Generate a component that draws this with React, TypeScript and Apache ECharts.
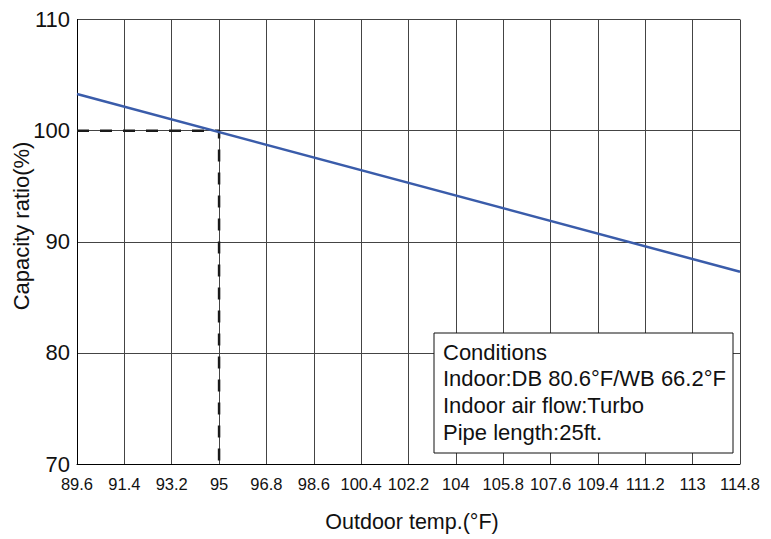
import React, { useEffect, useRef } from "react";
import * as echarts from "echarts";

const xLabels = ["89.6", "91.4", "93.2", "95", "96.8", "98.6", "100.4", "102.2", "104", "105.8", "107.6", "109.4", "111.2", "113", "114.8"];
const capacityLine: [string, number][] = [["89.6", 103.3], ["114.8", 87.3]];
const ratedGuide: [string, number][] = [["89.6", 100], ["95", 100], ["95", 70]];
const yTicks = [70, 80, 90, 100, 110];
const conditionLines = [
  "Conditions",
  "Indoor:DB 80.6°F/WB 66.2°F",
  "Indoor air flow:Turbo",
  "Pipe length:25ft.",
];
const xTitle = "Outdoor temp.(°F)";
const yTitle = "Capacity ratio(%)";

const FONT = "Liberation Sans, Arial, sans-serif";

export default function App() {
  const ref = useRef<HTMLDivElement>(null);
  useEffect(() => {
    if (!ref.current) return;
    const chart = echarts.init(ref.current, null, { renderer: "svg" });
    chart.setOption({
      animation: false,
      backgroundColor: "#ffffff",
      textStyle: { fontFamily: FONT },
      grid: { left: 77, right: 31, top: 19.5, bottom: 75, containLabel: false },
      xAxis: {
        type: "category",
        data: xLabels,
        boundaryGap: false,
        axisLine: { show: true, lineStyle: { color: "#000", width: 1 } },
        axisTick: { show: false },
        axisLabel: { fontSize: 16.5, color: "#111", margin: 11, fontFamily: FONT, interval: 0 },
        splitLine: { show: true, lineStyle: { color: "#444", width: 1 } },
      },
      yAxis: {
        type: "value",
        min: yTicks[0],
        max: yTicks[yTicks.length - 1],
        interval: 10,
        axisLine: { show: true, lineStyle: { color: "#000", width: 1 } },
        axisTick: { show: false },
        axisLabel: { fontSize: 22, color: "#111", margin: 7, fontFamily: FONT },
        splitLine: { show: true, lineStyle: { color: "#444", width: 1 } },
      },
      series: [
        {
          type: "line",
          data: ratedGuide,
          symbol: "none",
          lineStyle: { color: "#1a1a1a", width: 2.5, type: [12, 11] },
          z: 3,
        },
        {
          type: "line",
          data: capacityLine,
          symbol: "none",
          lineStyle: { color: "#3a5caa", width: 2.5 },
          z: 4,
        },
      ],
      graphic: [
        {
          type: "text",
          x: 412,
          y: 522,
          z: 100,
          style: {
            text: xTitle,
            fontSize: 21.5,
            fontFamily: FONT,
            fill: "#111",
            align: "center",
            verticalAlign: "middle",
          },
        },
        {
          type: "text",
          x: 21,
          y: 226,
          rotation: Math.PI / 2,
          z: 100,
          style: {
            text: yTitle,
            fontSize: 22,
            fontFamily: FONT,
            fill: "#111",
            align: "center",
            verticalAlign: "middle",
          },
        },
        {
          type: "rect",
          z: 100,
          shape: { x: 434, y: 333, width: 299, height: 120 },
          style: { fill: "#ffffff", stroke: "#111", lineWidth: 1 },
        },
        ...conditionLines.map((t, i) => ({
          type: "text",
          z: 101,
          x: 443,
          y: 352 + i * 26.7,
          style: {
            text: t,
            fontSize: 22,
            fontFamily: FONT,
            fill: "#111",
            verticalAlign: "middle",
          },
        })),
      ],
    });
    return () => chart.dispose();
  }, []);
  return (
    <div
      ref={ref}
      style={{ position: "fixed", left: 0, top: 0, width: 771, height: 539 }}
    />
  );
}
